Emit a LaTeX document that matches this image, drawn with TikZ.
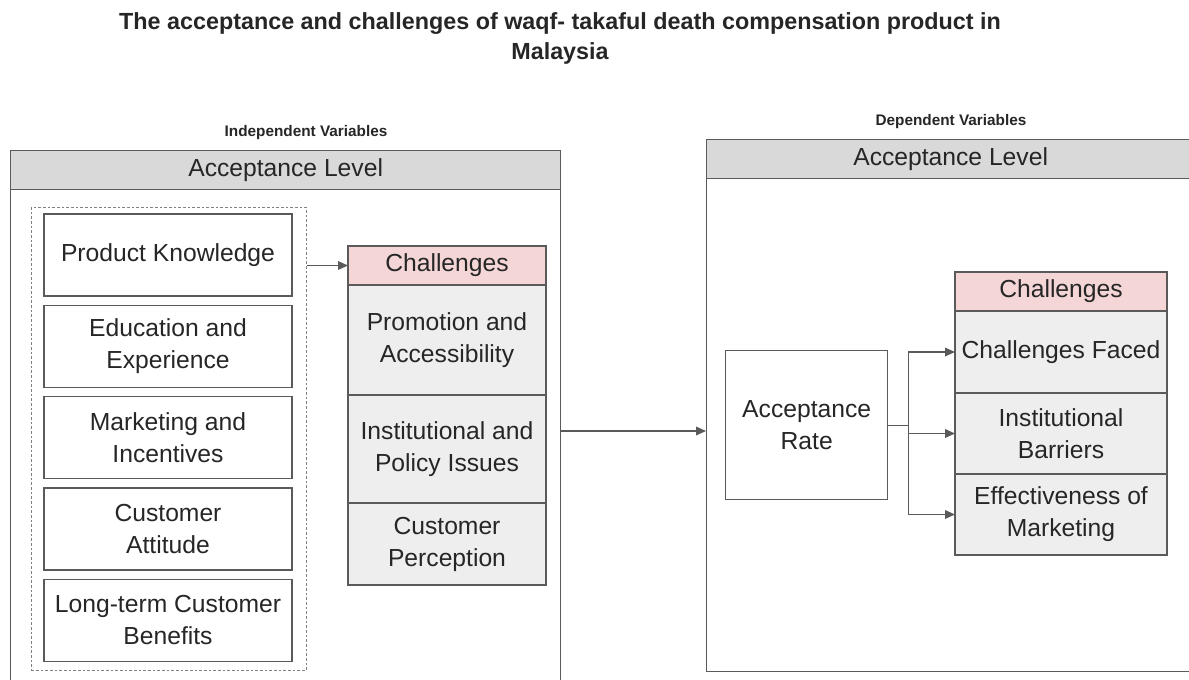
\documentclass[tikz,border=0pt]{standalone}
\usepackage{fontspec}
\setmainfont{Liberation Sans}
\usetikzlibrary{positioning, arrows.meta}

\newlength\px
\setlength\px{0.75pt}
\definecolor{headgray}{HTML}{D9D9D9}
\definecolor{cellgray}{HTML}{EEEEEE}
\definecolor{headpink}{HTML}{F4D6D6}
\definecolor{linegray}{HTML}{5A5A5A}

\begin{document}
\begin{tikzpicture}[
        x=0.75pt, y=-0.75pt,
        font=\fontsize{18.5}{24}\selectfont,
        every node/.style={text=black!85},
        panel/.style={rectangle, draw=linegray, line width=1pt, fill=white, anchor=north west, inner sep=0pt},
        panelhead/.style={rectangle, draw=linegray, line width=1pt, fill=headgray, anchor=north west, inner sep=0pt, minimum height=39\px},
        group/.style={rectangle, draw=gray, line width=0.6pt, dash pattern=on 2pt off 1.5pt, anchor=north west, inner sep=0pt},
        box/.style={rectangle, draw=linegray, line width=1pt, fill=white, minimum width=248\px, minimum height=82\px, align=center, inner sep=0pt},
        cell/.style={rectangle, draw=linegray, line width=1pt, fill=cellgray, align=center, outer sep=0pt, inner sep=0pt},
        cellhead/.style={cell, fill=headpink, minimum height=39\px},
        varlabel/.style={font=\fontsize{11.5}{14}\selectfont\bfseries},
        arr/.style={-{Triangle[length=7.5pt, width=6.5pt]}, linegray, line width=0.9pt}
    ]
    \useasboundingbox (0,0) rectangle (1189,679);
    \clip (0,0) rectangle (1189,679);

    % TITULO
    \node[font=\fontsize{17.5}{23}\selectfont\bfseries, align=center, anchor=north, inner sep=0pt] (title) at (560,12)
        {The acceptance and challenges of waqf- takaful death compensation product in\\Malaysia};

    % VARIABLES INDEPENDIENTES
    \node[varlabel] (indep) at (306,133) {Independent Variables};
    \node[panel, minimum width=550\px, minimum height=570\px] (lpanel) at (10,150) {};
    \node[panelhead, minimum width=550\px] (lhead) at (10,150) {Acceptance Level};
    \node[group, minimum width=275\px, minimum height=463\px] (grp) at (31,207) {};
    \node[box] (know) at (168,255) {Product Knowledge};
    \node[box, below=8\px of know] (edu) {Education and\\Experience};
    \node[box, below=8\px of edu] (mkt) {Marketing and\\Incentives};
    \node[box, below=8\px of mkt] (att) {Customer\\Attitude};
    \node[box, below=8\px of att] (ben) {Long-term Customer\\Benefits};

    \node[cellhead, minimum width=198\px, anchor=north west] (lchal) at (348,246) {Challenges};
    \node[cell, minimum width=198\px, minimum height=110\px, below=0pt of lchal] (promo) {Promotion and\\Accessibility};
    \node[cell, minimum width=198\px, minimum height=108\px, below=0pt of promo] (inst) {Institutional and\\Policy Issues};
    \node[cell, minimum width=198\px, minimum height=82\px, below=0pt of inst] (perc) {Customer\\Perception};

    % VARIABLES DEPENDIENTES
    \node[varlabel] (dep) at (951,122) {Dependent Variables};
    \node[panel, minimum width=488\px, minimum height=532\px] (rpanel) at (706,139) {};
    \node[panelhead, minimum width=488\px] (rhead) at (706,139) {Acceptance Level};
    \node[box, minimum width=162\px, minimum height=149\px, anchor=north west] (rate) at (725,350) {Acceptance\\Rate};

    \node[cellhead, minimum width=212\px, anchor=north west] (rchal) at (955,272) {Challenges};
    \node[cell, minimum width=212\px, minimum height=82\px, below=0pt of rchal] (faced) {Challenges Faced};
    \node[cell, minimum width=212\px, minimum height=81\px, below=0pt of faced] (barr) {Institutional\\Barriers};
    \node[cell, minimum width=212\px, minimum height=81\px, below=0pt of barr] (effect) {Effectiveness of\\Marketing};

    % Flechas de conexion
    \coordinate (link) at (0,431);
    \draw[arr] (grp.east |- lchal.west) -- (lchal.west);
    \draw[arr] (lpanel.east |- link) -- (rpanel.west |- link);
    \draw[linegray, line width=0.9pt] (rate.east) -- ++(20,0) coordinate (bus);
    \draw[linegray, line width=0.9pt] (bus |- faced) -- (bus |- effect);
    \foreach \row in {faced, barr, effect}
        \draw[arr] (bus |- \row) -- (\row.west);
\end{tikzpicture}
\end{document}
